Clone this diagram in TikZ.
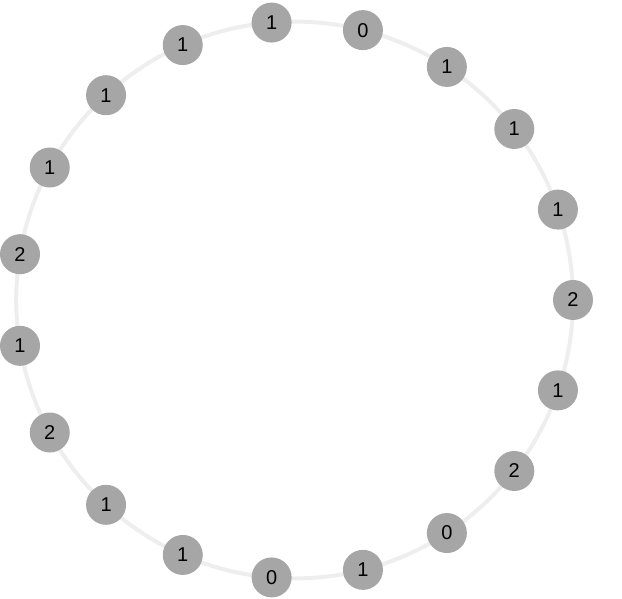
\documentclass[tikz,border=0pt]{standalone}
\usepackage{fontspec}
\setmainfont{Liberation Sans}
\usetikzlibrary{calc}
\definecolor{ringgray}{HTML}{EEEEEE}
\definecolor{nodegray}{HTML}{A6A6A6}
\begin{document}
\begin{tikzpicture}[x=1pt,y=1pt,
  ring/.style={draw=ringgray,line width=4pt},
  val/.style={circle,fill=nodegray,minimum size=40pt,inner sep=0pt,font=\fontsize{20}{20}\selectfont,text=black}]
\useasboundingbox (0,0) rectangle (622,598);
\coordinate (c) at (294.6,298);
\draw[ring] (c) circle[radius=278.4];
\foreach \v [count=\k] in {1,0,1,1,1,2,1,2,0,1,0,1,1,2,1,2,1,1,1}{
  \pgfmathsetmacro{\ang}{94.74-(\k-1)*360/19}
  \node[val] (n\k) at ($(c)+(\ang:278.4)$) {\v};
}
\end{tikzpicture}
\end{document}
